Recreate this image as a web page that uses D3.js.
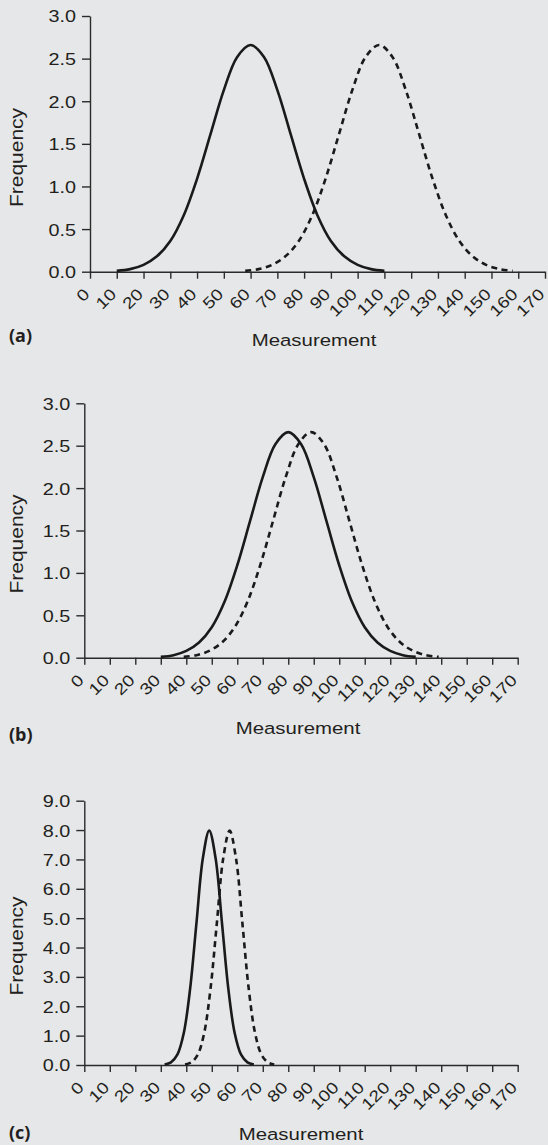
<!DOCTYPE html>
<html><head><meta charset="utf-8">
<script src="https://cdn.jsdelivr.net/npm/d3@7"></script>
<style>
html,body{margin:0;padding:0;background:#e6e7e8;}
svg{display:block;}
text{font-family:"Liberation Sans",Arial,sans-serif;fill:#231f20;}
</style></head>
<body>
<svg id="chart" width="548" height="1145"></svg>
<script>
// ---------- data ----------
const xTickValues = [0,10,20,30,40,50,60,70,80,90,100,110,120,130,140,150,160,170];
const yTicksAB = [0.0,0.5,1.0,1.5,2.0,2.5,3.0];
const yTicksC = [0,1,2,3,4,5,6,7,8,9];

// Panel (a)
const aSolidX = [10,15,20,25,30,35,40,45,50,55,60,65,70,75,80,85,90,95,100,105,110];
const aSolidY = [0.01,0.03,0.08,0.18,0.36,0.66,1.09,1.61,2.13,2.52,2.66,2.52,2.13,1.61,1.09,0.66,0.36,0.18,0.08,0.03,0.01];
const aDashX  = [58,63,68,73,78,83,88,93,98,103,108,113,118,123,128,133,138,143,148,153,158];
const aDashY  = [0.01,0.03,0.08,0.18,0.36,0.66,1.09,1.61,2.13,2.52,2.66,2.52,2.13,1.61,1.09,0.66,0.36,0.18,0.08,0.03,0.01];

// Panel (b)
const bSolidX = [30,35,40,45,50,55,60,65,70,75,80,85,90,95,100,105,110,115,120,125,130];
const bSolidY = [0.01,0.03,0.08,0.18,0.36,0.66,1.09,1.61,2.13,2.52,2.66,2.52,2.13,1.61,1.09,0.66,0.36,0.18,0.08,0.03,0.01];
const bDashX  = [39,44,49,54,59,64,69,74,79,84,89,94,99,104,109,114,119,124,129,134,139];
const bDashY  = [0.01,0.03,0.08,0.18,0.36,0.66,1.09,1.61,2.13,2.52,2.66,2.52,2.13,1.61,1.09,0.66,0.36,0.18,0.08,0.03,0.01];

// Panel (c)
const cSolidX = [31.5,34,36.5,39,41.5,44,46.5,49,51.5,54,56.5,59,61.5,64,66.5];
const cSolidY = [0.02,0.09,0.35,1.08,2.59,4.84,7.04,7.98,7.04,4.84,2.59,1.08,0.35,0.09,0.02];
const cDashX  = [39.5,42,44.5,47,49.5,52,54.5,57,59.5,62,64.5,67,69.5,72,74.5];
const cDashY  = [0.02,0.09,0.35,1.08,2.59,4.84,7.04,7.98,7.04,4.84,2.59,1.08,0.35,0.09,0.02];

const panelLabels = ["(a)","(b)","(c)"];
const xTitle = "Measurement";
const yTitle = "Frequency";

// ---------- drawing ----------
const svg = d3.select("#chart");
svg.append("rect").attr("width",548).attr("height",1145).attr("fill","#e6e7e8");

function panel(cfg){
  const g = svg.append("g");
  const x = d3.scaleLinear().domain([0,170]).range([cfg.left,cfg.right]);
  const y = d3.scaleLinear().domain([0,cfg.yMax]).range([cfg.bottom,cfg.top]);

  const line = d3.line().x(d=>x(d[0])).y(d=>y(d[1])).curve(d3.curveCatmullRom.alpha(0.5));

  // axes
  const xa = g.append("g").attr("transform",`translate(0,${cfg.bottom})`)
    .call(d3.axisBottom(x).tickValues(xTickValues).tickSize(7).tickSizeOuter(0).tickFormat(d3.format("d")));
  xa.selectAll("text")
    .attr("x",0).attr("y",0).attr("dy","0.35em")
    .attr("transform","translate(-4,19.5) rotate(-45) scale(1.2,1)")
    .style("text-anchor","end")
    .style("font-size","16px");
  const ya = g.append("g").attr("transform",`translate(${cfg.left},0)`)
    .call(d3.axisLeft(y).tickValues(cfg.yTicks).tickSize(8).tickSizeOuter(0).tickFormat(d3.format(".1f")));
  ya.selectAll("text")
    .attr("x",0).attr("dy","0.36em")
    .attr("transform","translate(-14,0) scale(1.2,1)")
    .style("text-anchor","end")
    .style("font-size","16.5px");
  g.selectAll(".domain,.tick line").attr("stroke","#2b2b2b").attr("stroke-width",1.4);
  g.selectAll(".tick text").attr("fill","#231f20").style("font-family","'Liberation Sans',Arial,sans-serif");

  // curves
  g.append("path").datum(d3.zip(cfg.sx,cfg.sy)).attr("d",line)
    .attr("fill","none").attr("stroke","#1a1a1a").attr("stroke-width",2.6);
  g.append("path").datum(d3.zip(cfg.dx,cfg.dy)).attr("d",line)
    .attr("fill","none").attr("stroke","#1a1a1a").attr("stroke-width",2.6)
    .attr("stroke-dasharray","6,4.5");

  // titles
  g.append("text").attr("transform",`translate(22.5,${cfg.fy}) rotate(-90) scale(1.2,1)`)
    .attr("text-anchor","middle").style("font-size","17.5px").text(yTitle);
  g.append("text").attr("transform",`translate(${cfg.mx},${cfg.my}) scale(1.2,1)`)
    .attr("text-anchor","middle").style("font-size","17px").text(xTitle);
  g.append("text").attr("x",9).attr("y",cfg.ly)
    .style("font-family","'Open Sans',sans-serif").style("font-weight","700")
    .style("font-size","18px").attr("fill","#2a2a2a").text(cfg.label);
}

panel({left:90,right:545,top:16,bottom:271.7,yMax:3,yTicks:yTicksAB,
  sx:aSolidX,sy:aSolidY,dx:aDashX,dy:aDashY,fy:157.5,mx:314,my:346,ly:342,label:panelLabels[0]});
panel({left:84.3,right:517.7,top:403.3,bottom:657.7,yMax:3,yTicks:yTicksAB,
  sx:bSolidX,sy:bSolidY,dx:bDashX,dy:bDashY,fy:544,mx:298,my:734,ly:741,label:panelLabels[1]});
panel({left:84.3,right:517.7,top:800.7,bottom:1065,yMax:9,yTicks:yTicksC,
  sx:cSolidX,sy:cSolidY,dx:cDashX,dy:cDashY,fy:946,mx:301,my:1140,ly:1139,label:panelLabels[2]});
</script>
</body></html>
